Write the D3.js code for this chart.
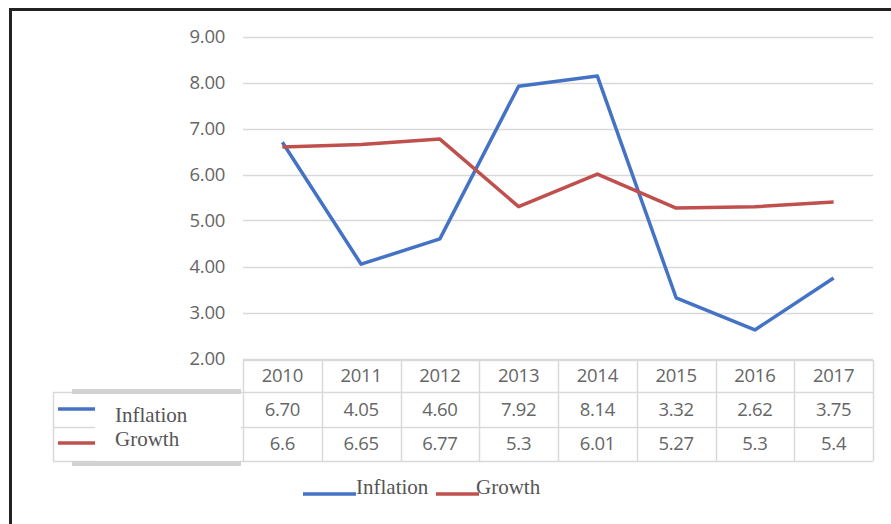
<!DOCTYPE html>
<html>
<head>
<meta charset="utf-8">
<script src="https://cdn.jsdelivr.net/npm/d3@7"></script>
<style>
  html, body { margin: 0; padding: 0; background: #fff; }
  svg { display: block; }
</style>
</head>
<body>
<svg id="chart" width="891" height="524"></svg>
<script>
// ---- data ----
const years = ["2010", "2011", "2012", "2013", "2014", "2015", "2016", "2017"];
const inflation = [6.70, 4.05, 4.60, 7.92, 8.14, 3.32, 2.62, 3.75];
const growth = [6.6, 6.65, 6.77, 5.3, 6.01, 5.27, 5.3, 5.4];
const inflationLabels = ["6.70", "4.05", "4.60", "7.92", "8.14", "3.32", "2.62", "3.75"];
const growthLabels = ["6.6", "6.65", "6.77", "5.3", "6.01", "5.27", "5.3", "5.4"];
const yTicks = [2, 3, 4, 5, 6, 7, 8, 9];
const seriesNames = ["Inflation", "Growth"];

// ---- styles ----
const BLUE = "#4472C4", RED = "#C0504D";
const GRID = "#d9d9d9", TEXT = "#666666";
const sansFont = "'Open Sans', 'Noto Sans', sans-serif";
const serifFont = "'Liberation Serif', 'DejaVu Serif', serif";

const svg = d3.select("#chart");

// outer frame (top and left edges visible)
svg.append("line").attr("x1", 10).attr("y1", 9.5).attr("x2", 891).attr("y2", 9.5)
  .attr("stroke", "#222").attr("stroke-width", 3);
svg.append("line").attr("x1", 10.5).attr("y1", 8).attr("x2", 10.5).attr("y2", 524)
  .attr("stroke", "#222").attr("stroke-width", 3);

// scales
const x = d3.scaleBand().domain(years).range([243, 873]).padding(0);
const y = d3.scaleLinear().domain([2, 9]).range([358.5, 36.5]);

// gridlines
svg.append("g").selectAll("line").data(yTicks).join("line")
  .attr("x1", 243).attr("x2", 873)
  .attr("y1", d => Math.round(y(d)) + 0.5).attr("y2", d => Math.round(y(d)) + 0.5)
  .attr("stroke", GRID).attr("stroke-width", 1.5);

// y axis labels
const yAxis = d3.axisLeft(y).tickValues(yTicks).tickFormat(d3.format(".2f")).tickSize(0).tickPadding(0);
const yg = svg.append("g").attr("transform", "translate(225,0)").call(yAxis);
yg.select(".domain").remove();
yg.selectAll("text").attr("font-family", sansFont).attr("font-size", 18.5)
  .attr("fill", TEXT).attr("letter-spacing", -0.3);

// lines
const line = d3.line().x((d, i) => x(years[i]) + x.bandwidth() / 2).y(d => y(d));
svg.append("path").datum(inflation).attr("d", line)
  .attr("fill", "none").attr("stroke", BLUE).attr("stroke-width", 3.5).attr("stroke-linejoin", "round");
svg.append("path").datum(growth).attr("d", line)
  .attr("fill", "none").attr("stroke", RED).attr("stroke-width", 3.5).attr("stroke-linejoin", "round");

// ---- data table ----
const rowTops = [360, 392, 427, 461];
const tbl = svg.append("g");
rowTops.forEach(t => {
  tbl.append("line").attr("x1", 243).attr("x2", 873).attr("y1", t + 0.5).attr("y2", t + 0.5)
    .attr("stroke", GRID).attr("stroke-width", 1.5);
});
[392, 427, 461].forEach(t => {
  tbl.append("line").attr("x1", 53).attr("x2", 243).attr("y1", t + 0.5).attr("y2", t + 0.5)
    .attr("stroke", GRID).attr("stroke-width", 1.5);
});
tbl.append("line").attr("x1", 53.5).attr("x2", 53.5).attr("y1", 392).attr("y2", 461)
  .attr("stroke", GRID).attr("stroke-width", 1.5);
const bounds = years.map(d => x(d)).concat([x.range()[1]]);
tbl.selectAll("line.v").data(bounds).join("line").attr("class", "v")
  .attr("x1", d => Math.round(d) + 0.5).attr("x2", d => Math.round(d) + 0.5)
  .attr("y1", 360).attr("y2", 461)
  .attr("stroke", GRID).attr("stroke-width", 1.5);

const rowsText = [years, inflationLabels, growthLabels];
const rowCenters = [376, 409.5, 444];
rowsText.forEach((row, r) => {
  tbl.append("g").selectAll("text").data(row).join("text")
    .attr("x", (d, i) => x(years[i]) + x.bandwidth() / 2)
    .attr("y", rowCenters[r])
    .attr("dy", "0.35em")
    .attr("text-anchor", "middle")
    .attr("font-family", sansFont).attr("font-size", 18.5).attr("letter-spacing", -0.3)
    .attr("fill", TEXT)
    .text(d => d);
});

// legend keys in table
tbl.append("line").attr("x1", 58).attr("x2", 95).attr("y1", 409).attr("y2", 409)
  .attr("stroke", BLUE).attr("stroke-width", 3.5);
tbl.append("line").attr("x1", 58).attr("x2", 95).attr("y1", 443).attr("y2", 443)
  .attr("stroke", RED).attr("stroke-width", 3.5);

// overlay box with serif labels
const ov = svg.append("g");
ov.append("rect").attr("x", 95).attr("y", 393).attr("width", 146).attr("height", 69).attr("fill", "#fff");
ov.append("rect").attr("x", 72).attr("y", 389).attr("width", 169).attr("height", 5).attr("fill", "#d2d2d2");
ov.append("rect").attr("x", 72).attr("y", 461).attr("width", 169).attr("height", 5).attr("fill", "#d2d2d2");
ov.selectAll("text").data(seriesNames).join("text")
  .attr("x", 115).attr("y", (d, i) => 422 + i * 24)
  .attr("font-family", serifFont).attr("font-size", 21).attr("fill", "#555")
  .text(d => d);

// bottom legend
const lg = svg.append("g");
const legendItems = [
  { name: seriesNames[0], color: BLUE, x1: 303, x2: 356, tx: 356 },
  { name: seriesNames[1], color: RED, x1: 436, x2: 479, tx: 476 }
];
legendItems.forEach(it => {
  lg.append("line").attr("x1", it.x1).attr("x2", it.x2).attr("y1", 494).attr("y2", 494)
    .attr("stroke", it.color).attr("stroke-width", 3.5);
  lg.append("text").attr("x", it.tx).attr("y", 494)
    .attr("font-family", serifFont).attr("font-size", 21).attr("fill", "#555")
    .text(it.name);
});
</script>
</body>
</html>
